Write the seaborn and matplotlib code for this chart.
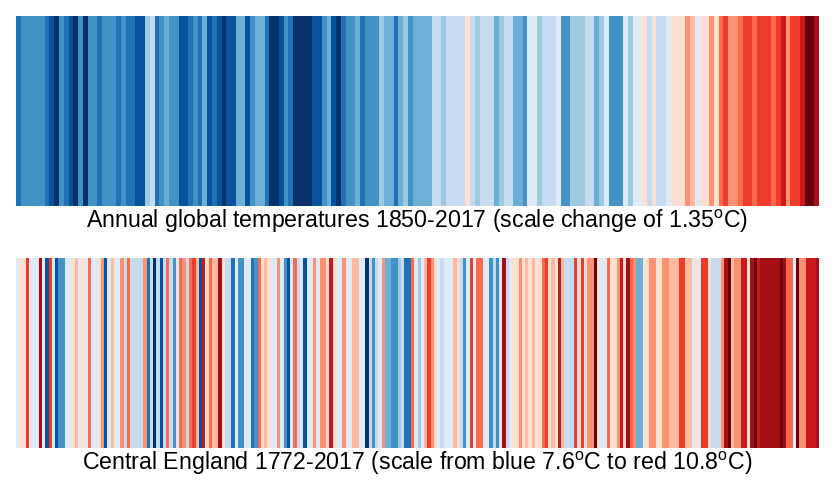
import numpy as np
import matplotlib
matplotlib.use("Agg")
import matplotlib.pyplot as plt
from matplotlib.colors import ListedColormap
import seaborn as sns

# classic stripes palette, 8 blues then 8 reds
stripe_colors = ['#08306b', '#08519c', '#2171b5', '#4292c6', '#6baed6', '#9ecae1', '#c6dbef', '#deebf7',
                 '#fee0d2', '#fcbba1', '#fc9272', '#fb6a4a', '#ef3b2c', '#cb181d', '#a50f15', '#67000d']

# colour level of each year
global_levels = [
    2, 3, 3, 3, 3, 3, 2, 1, 0, 3, 2, 1, 0, 3, 0, 3, 3, 2, 3, 3,
    3, 2, 3, 2, 2, 1, 1, 5, 6, 2, 3, 4, 3, 3, 1, 1, 2, 3, 2, 4,
    1, 2, 1, 0, 1, 1, 4, 4, 1, 3, 4, 4, 2, 0, 0, 1, 3, 2, 0, 0,
    0, 0, 1, 1, 3, 4, 1, 0, 2, 3, 3, 4, 2, 3, 3, 3, 5, 4, 4, 2,
    4, 5, 3, 4, 4, 4, 4, 6, 6, 5, 6, 6, 6, 6, 8, 6, 5, 6, 6, 6,
    4, 5, 6, 6, 4, 4, 3, 7, 7, 5, 6, 6, 6, 7, 3, 3, 5, 5, 5, 6,
    6, 4, 5, 7, 3, 3, 3, 7, 5, 7, 7, 8, 6, 8, 6, 6, 7, 8, 8, 8,
    10, 9, 7, 8, 8, 10, 8, 11, 12, 10, 10, 11, 12, 12, 11, 12, 12, 12, 11, 12,
    13, 10, 12, 12, 13, 15, 15, 14]

england_levels = [
    7, 8, 8, 12, 7, 7, 7, 14, 7, 1, 12, 7, 1, 3, 3, 7, 7, 8, 9, 7,
    8, 7, 11, 7, 7, 8, 10, 1, 7, 9, 7, 7, 10, 6, 11, 6, 6, 6, 6, 10,
    2, 6, 0, 6, 1, 6, 11, 6, 3, 7, 11, 10, 6, 11, 12, 9, 1, 13, 8, 11,
    9, 9, 14, 8, 6, 6, 2, 7, 3, 3, 7, 7, 2, 3, 11, 8, 9, 8, 7, 7,
    10, 7, 3, 1, 7, 11, 6, 7, 1, 7, 7, 10, 7, 10, 10, 8, 13, 8, 7, 7,
    10, 7, 7, 9, 9, 7, 7, 0, 6, 3, 6, 7, 10, 4, 4, 3, 3, 5, 6, 2,
    2, 11, 7, 5, 7, 9, 12, 10, 8, 7, 6, 7, 7, 7, 9, 8, 6, 3, 7, 12,
    7, 11, 11, 7, 7, 3, 6, 3, 7, 14, 6, 7, 8, 8, 10, 8, 9, 8, 9, 8,
    8, 11, 12, 8, 9, 8, 13, 9, 6, 6, 6, 12, 8, 12, 8, 10, 10, 15, 8, 7,
    7, 11, 8, 8, 10, 13, 8, 14, 11, 10, 4, 4, 8, 8, 10, 10, 8, 8, 10, 10,
    9, 9, 9, 12, 12, 9, 9, 7, 8, 7, 12, 12, 8, 6, 6, 6, 10, 14, 15, 9,
    10, 10, 13, 13, 8, 14, 15, 13, 14, 14, 14, 14, 14, 14, 15, 14, 11, 11, 7, 15,
    10, 10, 13, 13, 13, 14]

global_caption = r"Annual global temperatures 1850-2017 (scale change of 1.35$^{\mathrm{o}}$C)"
england_caption = r"Central England 1772-2017 (scale from blue 7.6$^{\mathrm{o}}$C to red 10.8$^{\mathrm{o}}$C)"

sns.set_theme(style="white")
plt.rcParams['font.family'] = ['Liberation Sans', 'DejaVu Sans']
plt.rcParams['mathtext.fontset'] = 'custom'
plt.rcParams['mathtext.rm'] = 'Liberation Sans'

cmap = ListedColormap(stripe_colors)
W, H = 836, 488
fig = plt.figure(figsize=(W / 100, H / 100), dpi=100)


def draw_stripes(levels, top, caption):
    ax = fig.add_axes([16 / W, 1 - (top + 190) / H, 803 / W, 190 / H])
    sns.heatmap(np.array([levels]), ax=ax, cmap=cmap, vmin=-0.5, vmax=15.5, cbar=False,
                xticklabels=False, yticklabels=False)
    ax.set_xlabel(caption, fontsize=16.7, color='black', labelpad=1)
    return ax


draw_stripes(global_levels, 16, global_caption)
draw_stripes(england_levels, 258, england_caption)

fig.savefig("out.png", dpi=100)
